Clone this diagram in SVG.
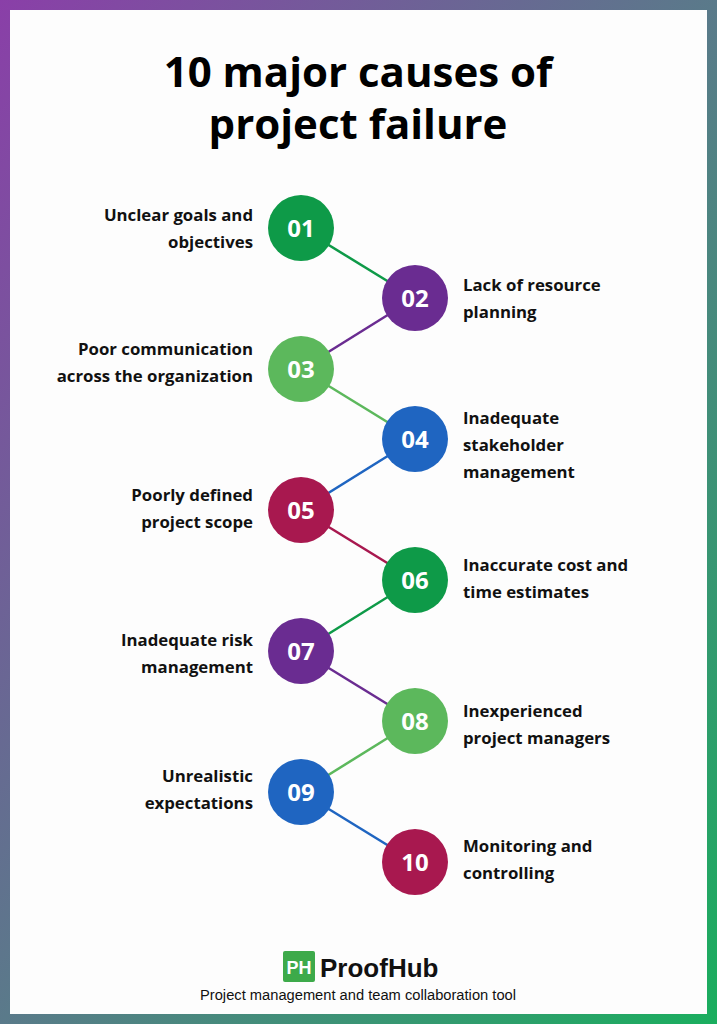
<svg xmlns="http://www.w3.org/2000/svg" width="717" height="1024" viewBox="0 0 717 1024">
<defs>
<linearGradient id="bg" x1="0" y1="0" x2="1" y2="1">
<stop offset="0" stop-color="#8a3fa8"/><stop offset="0.5" stop-color="#5a7a8a"/><stop offset="1" stop-color="#1aae5e"/>
</linearGradient>
<style>
.t{font-family:"Open Sans",Lato,sans-serif;font-weight:700;font-size:16.8px;fill:#111}
.l{text-anchor:end}
.n{font-family:"Open Sans",Lato,sans-serif;font-weight:700;font-size:24px;fill:#fff;text-anchor:middle}
.c{stroke-width:2.5}
</style>
</defs>
<rect width="717" height="1024" fill="url(#bg)"/>
<rect x="10" y="10" width="697" height="1004" fill="#fdfdfd"/>
<text x="358" y="87" text-anchor="middle" style="font-family:'Open Sans',Lato,sans-serif;font-weight:700;font-size:42px;fill:#000">10 major causes of</text>
<text x="358" y="139" text-anchor="middle" style="font-family:'Open Sans',Lato,sans-serif;font-weight:700;font-size:42px;fill:#000">project failure</text>
<g id="connectors">
<line class="c" x1="301" y1="228" x2="415" y2="298" stroke="#0e9a48"/>
<line class="c" x1="415" y1="298" x2="301" y2="369" stroke="#6a2c91"/>
<line class="c" x1="301" y1="369" x2="415" y2="439" stroke="#5cb85c"/>
<line class="c" x1="415" y1="439" x2="301" y2="510" stroke="#1f65c1"/>
<line class="c" x1="301" y1="510" x2="415" y2="580" stroke="#a8184f"/>
<line class="c" x1="415" y1="580" x2="301" y2="651" stroke="#0e9a48"/>
<line class="c" x1="301" y1="651" x2="415" y2="721" stroke="#6a2c91"/>
<line class="c" x1="415" y1="721" x2="301" y2="792" stroke="#5cb85c"/>
<line class="c" x1="301" y1="792" x2="415" y2="862" stroke="#1f65c1"/>
</g>
<g id="n01"><circle cx="301" cy="228" r="33" fill="#0e9a48"/><text class="n" x="301" y="237">01</text><text class="t l" x="253" y="221">Unclear goals and</text><text class="t l" x="253" y="248">objectives</text></g>
<g id="n02"><circle cx="415" cy="298" r="33" fill="#6a2c91"/><text class="n" x="415" y="307">02</text><text class="t" x="463" y="291">Lack of resource</text><text class="t" x="463" y="318">planning</text></g>
<g id="n03"><circle cx="301" cy="369" r="33" fill="#5cb85c"/><text class="n" x="301" y="378">03</text><text class="t l" x="253" y="355">Poor communication</text><text class="t l" x="253" y="382">across the organization</text></g>
<g id="n04"><circle cx="415" cy="439" r="33" fill="#1f65c1"/><text class="n" x="415" y="448">04</text><text class="t" x="463" y="424">Inadequate</text><text class="t" x="463" y="451">stakeholder</text><text class="t" x="463" y="478">management</text></g>
<g id="n05"><circle cx="301" cy="510" r="33" fill="#a8184f"/><text class="n" x="301" y="519">05</text><text class="t l" x="253" y="501">Poorly defined</text><text class="t l" x="253" y="528">project scope</text></g>
<g id="n06"><circle cx="415" cy="580" r="33" fill="#0e9a48"/><text class="n" x="415" y="589">06</text><text class="t" x="463" y="571">Inaccurate cost and</text><text class="t" x="463" y="598">time estimates</text></g>
<g id="n07"><circle cx="301" cy="651" r="33" fill="#6a2c91"/><text class="n" x="301" y="660">07</text><text class="t l" x="253" y="646">Inadequate risk</text><text class="t l" x="253" y="673">management</text></g>
<g id="n08"><circle cx="415" cy="721" r="33" fill="#5cb85c"/><text class="n" x="415" y="730">08</text><text class="t" x="463" y="717">Inexperienced</text><text class="t" x="463" y="744">project managers</text></g>
<g id="n09"><circle cx="301" cy="792" r="33" fill="#1f65c1"/><text class="n" x="301" y="801">09</text><text class="t l" x="253" y="782">Unrealistic</text><text class="t l" x="253" y="809">expectations</text></g>
<g id="n10"><circle cx="415" cy="862" r="33" fill="#a8184f"/><text class="n" x="415" y="871">10</text><text class="t" x="463" y="852">Monitoring and</text><text class="t" x="463" y="879">controlling</text></g>
<g id="logo">
<rect x="283" y="951" width="32" height="31" rx="2" fill="#3daa4a"/>
<text x="299" y="974" text-anchor="middle" style="font-family:'Liberation Sans',sans-serif;font-weight:700;font-size:18px;fill:#fff">PH</text>
<text x="320" y="977" style="font-family:'Liberation Sans',sans-serif;font-weight:700;font-size:26px;fill:#111">ProofHub</text>
<text x="358" y="1000" text-anchor="middle" style="font-family:'Liberation Sans',sans-serif;font-size:14.7px;fill:#111">Project management and team collaboration tool</text>
</g>
</svg>
